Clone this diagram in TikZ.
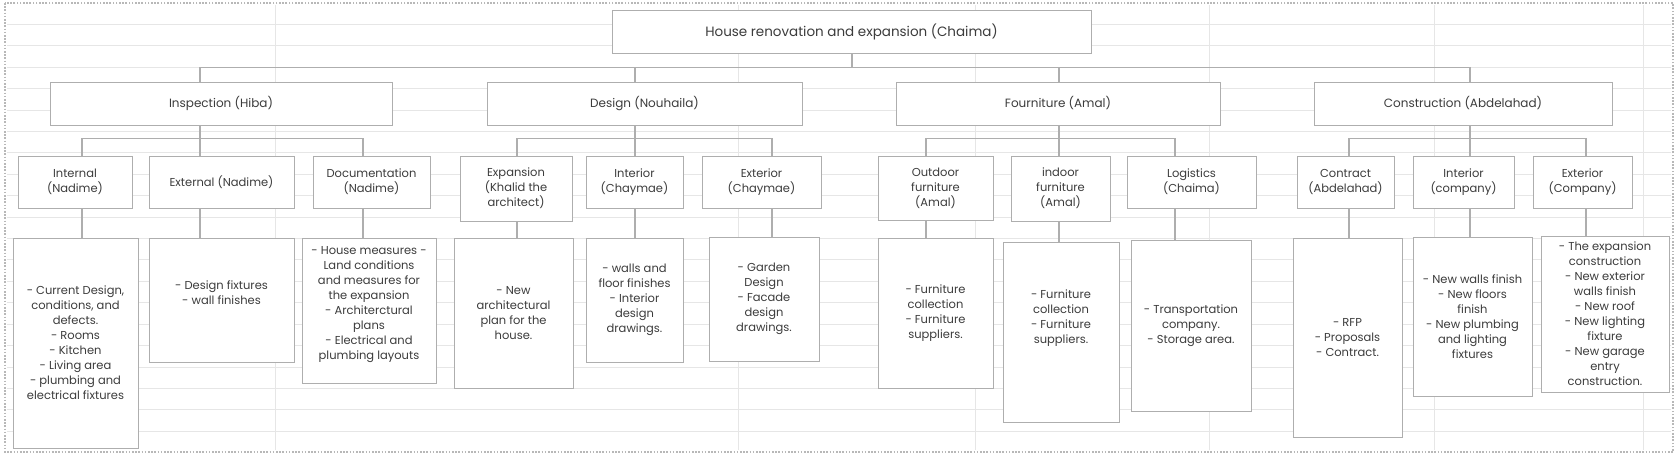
\documentclass[tikz,border=0pt]{standalone}
\usepackage{fontspec}
\setmainfont{Poppins}
\usetikzlibrary{calc,shadows}
\definecolor{txtc}{HTML}{3C3C3C}
\definecolor{bordc}{HTML}{AEAEAE}
\definecolor{gridc}{HTML}{E6E6E6}
\definecolor{dotc}{HTML}{B8B8B8}
\tikzset{
  box/.style={draw=bordc, line width=1pt, fill=white, text=txtc, align=center, inner sep=1pt,
    font=\fontsize{11.5}{15}\selectfont,
    general shadow={fill=black!7, shadow xshift=1.2pt, shadow yshift=-1.2pt}},
  titlebox/.style={box, font=\fontsize{13.5}{17}\selectfont},
  headbox/.style={box, font=\fontsize{12}{15}\selectfont},
  conn/.style={draw=bordc, line width=1.4pt},
  gridline/.style={draw=gridc, line width=0.9pt},
}
\newcommand\bx[7][]{\node[box,#1,minimum width={#4pt-#2pt},minimum height={#5pt-#3pt}] (#6) at ({(#2+#4)/2},{(#3+#5)/2}) {#7};}
\begin{document}
\begin{tikzpicture}[x=1pt,y=-1pt]
\useasboundingbox (0,0) rectangle (1677,472);
\fill[white] (0,0) rectangle (1677,472);
% spreadsheet grid
\foreach \k in {0,...,19} \draw[gridline] (7,{24.3+21.42*\k}) -- (1671,{24.3+21.42*\k});
\foreach \x in {275,738,975,1209,1434,1643} \draw[gridline] (\x,5) -- (\x,450);
\draw[dotc, dash pattern=on 1.6pt off 1.6pt, line width=1.6pt] (5,3) rectangle (1673,452);
% stem positions
\coordinate (xTop) at (852,0);
\coordinate (xInsp) at (200,0);
\coordinate (xDesg) at (635,0);
\coordinate (xFour) at (1059,0);
\coordinate (xCons) at (1470,0);
\coordinate (xInt) at (82,0);
\coordinate (xExt) at (200,0);
\coordinate (xDoc) at (363,0);
\coordinate (xExp) at (517,0);
\coordinate (xIntD) at (635,0);
\coordinate (xExtD) at (772,0);
\coordinate (xOut) at (926,0);
\coordinate (xInd) at (1059,0);
\coordinate (xLog) at (1175,0);
\coordinate (xCon) at (1349,0);
\coordinate (xIntC) at (1470,0);
\coordinate (xExtC) at (1586,0);
% boxes
\bx[titlebox]{612}{10}{1091}{53}{top}{House renovation and expansion (Chaima)}
\bx[headbox]{50}{82}{392}{125}{insp}{Inspection (Hiba)}
\bx[headbox]{487}{82}{802}{125}{desg}{Design (Nouhaila)}
\bx[headbox]{896}{82}{1220}{125}{four}{Fourniture (Amal)}
\bx[headbox]{1314}{82}{1612}{125}{cons}{Construction (Abdelahad)}
\bx{18}{156}{132}{208}{cint}{Internal\\(Nadime)}
\bx{149}{156}{294}{208}{cext}{External (Nadime)}
\bx{313}{156}{430}{208}{cdoc}{Documentation\\(Nadime)}
\bx{460}{156}{572}{221}{cexp}{Expansion\\(Khalid the\\architect)}
\bx{586}{156}{683}{208}{cintd}{Interior\\(Chaymae)}
\bx{702}{156}{821}{208}{cextd}{Exterior\\(Chaymae)}
\bx{878}{156}{993}{220}{cout}{Outdoor\\furniture\\(Amal)}
\bx{1011}{156}{1110}{221}{cind}{indoor\\furniture\\(Amal)}
\bx{1127}{156}{1256}{208}{clog}{Logistics\\(Chaima)}
\bx{1297}{156}{1394}{208}{ccon}{Contract\\(Abdelahad)}
\bx{1413}{156}{1514}{208}{cintc}{Interior\\(company)}
\bx{1533}{156}{1632}{208}{cextc}{Exterior\\(Company)}
\bx{13}{238}{138}{448}{dint}{- Current Design,\\conditions, and\\defects.\\- Rooms\\- Kitchen\\- Living area\\- plumbing and\\electrical fixtures}
\bx{149}{238}{294}{362}{dext}{- Design fixtures\\- wall finishes\\\mbox{}}
\bx{302}{238}{436}{383}{ddoc}{- House measures -\\Land conditions\\and measures for\\the expansion\\- Architerctural\\plans\\- Electrical and\\plumbing layouts\\\mbox{}}
\bx{454}{238}{573}{388}{dexp}{- New\\architectural\\plan for the\\house.}
\bx{586}{238}{683}{362}{dintd}{- walls and\\floor finishes\\- Interior\\design\\drawings.}
\bx{709}{237}{819}{361}{dextd}{- Garden\\Design\\- Facade\\design\\drawings.}
\bx{878}{238}{993}{388}{dout}{- Furniture\\collection\\- Furniture\\suppliers.}
\bx{1003}{242}{1119}{422}{dind}{- Furniture\\collection\\- Furniture\\suppliers.\\\mbox{}\\\mbox{}}
\bx{1131}{240}{1251}{411}{dlog}{- Transportation\\company.\\- Storage area.}
\bx{1293}{238}{1402}{437}{dcon}{- RFP\\- Proposals\\- Contract.}
\bx{1413}{237}{1532}{396}{dintc}{- New walls finish\\- New floors\\finish\\- New plumbing\\and lighting\\fixtures}
\bx{1541}{236}{1669}{392}{dextc}{- The expansion\\construction\\- New exterior\\walls finish\\- New roof\\- New lighting\\fixture\\- New garage\\entry\\construction.}
% connectors level 1
\foreach \c/\x in {insp/xInsp,desg/xDesg,four/xFour,cons/xCons}
  \draw[conn] (top.south -| xTop) -- ++(0,14) -| (\c.north -| \x);
% connectors level 2
\foreach \c/\x in {cint/xInt,cext/xExt,cdoc/xDoc}
  \draw[conn] (insp.south -| xInsp) -- ++(0,13) -| (\c.north -| \x);
\foreach \c/\x in {cexp/xExp,cintd/xIntD,cextd/xExtD}
  \draw[conn] (desg.south -| xDesg) -- ++(0,13) -| (\c.north -| \x);
\foreach \c/\x in {cout/xOut,cind/xInd,clog/xLog}
  \draw[conn] (four.south -| xFour) -- ++(0,13) -| (\c.north -| \x);
\foreach \c/\x in {ccon/xCon,cintc/xIntC,cextc/xExtC}
  \draw[conn] (cons.south -| xCons) -- ++(0,13) -| (\c.north -| \x);
% connectors to details
\foreach \a/\b/\x in {cint/dint/xInt,cext/dext/xExt,cdoc/ddoc/xDoc,cexp/dexp/xExp,cintd/dintd/xIntD,cextd/dextd/xExtD,cout/dout/xOut,cind/dind/xInd,clog/dlog/xLog,ccon/dcon/xCon,cintc/dintc/xIntC,cextc/dextc/xExtC}
  \draw[conn] (\a.south -| \x) -- (\b.north -| \x);
\end{tikzpicture}
\end{document}
